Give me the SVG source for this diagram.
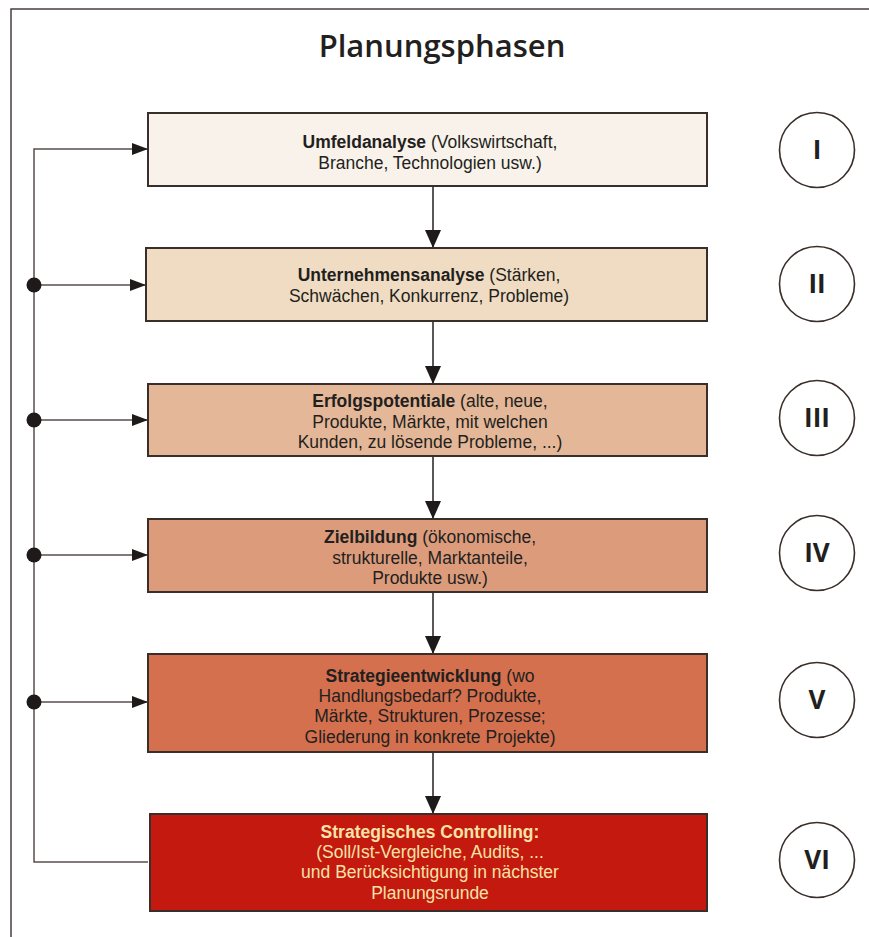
<svg xmlns="http://www.w3.org/2000/svg" width="869" height="937" viewBox="0 0 869 937">
<defs>
<style>
.frame{fill:none;stroke:#4a3f3c;stroke-width:1.5}
.box{stroke:#3a2e2a;stroke-width:2}
.t{font-family:"Liberation Sans",Arial,sans-serif;font-size:17.5px;fill:#231f20;text-anchor:middle}
.b{font-weight:700}
.w{fill:#f6e3a8}
.title{font-family:"Open Sans","Noto Sans",sans-serif;font-size:31px;font-weight:600;fill:#231f20;text-anchor:middle}
.circ{fill:#fff;stroke:#3a2e2a;stroke-width:1.6}
.num{font-family:"Open Sans","Noto Sans",sans-serif;font-size:26px;font-weight:700;fill:#231f20;text-anchor:middle}
.ln{fill:none;stroke:#5a4d4c;stroke-width:1.5}
.dn{fill:none;stroke:#231f20;stroke-width:1.5}
.dot{fill:#1e1a1a}
</style>
<marker id="ah" markerWidth="16" markerHeight="12" refX="16" refY="6" orient="auto" markerUnits="userSpaceOnUse">
<path d="M0,0 L16,6 L0,12 Z" fill="#1e1a1a"/>
</marker>
<marker id="ad" markerWidth="18" markerHeight="18" refX="18" refY="9" orient="auto" markerUnits="userSpaceOnUse">
<path d="M0,1 L18,9 L0,17 Z" fill="#1e1a1a"/>
</marker>
</defs>
<rect width="869" height="937" fill="#ffffff"/>
<rect class="frame" x="11" y="9" width="870" height="940"/>
<text class="title" x="442" y="57">Planungsphasen</text>

<g id="connectors">
<path class="ln" d="M148,862 L34,862 L34,149 L148,149" marker-end="url(#ah)"/>
<line class="ln" x1="34" y1="285" x2="146" y2="285" marker-end="url(#ah)"/>
<line class="ln" x1="34" y1="420" x2="148" y2="420" marker-end="url(#ah)"/>
<line class="ln" x1="34" y1="555" x2="148" y2="555" marker-end="url(#ah)"/>
<line class="ln" x1="34" y1="702" x2="148" y2="702" marker-end="url(#ah)"/>
<circle class="dot" cx="34" cy="285" r="7.5"/>
<circle class="dot" cx="34" cy="420" r="7.5"/>
<circle class="dot" cx="34" cy="555" r="7.5"/>
<circle class="dot" cx="34" cy="702" r="7.5"/>
<line class="dn" x1="433" y1="187" x2="433" y2="248" marker-end="url(#ad)"/>
<line class="dn" x1="433" y1="322" x2="433" y2="384" marker-end="url(#ad)"/>
<line class="dn" x1="433" y1="457" x2="433" y2="519" marker-end="url(#ad)"/>
<line class="dn" x1="433" y1="593" x2="433" y2="654" marker-end="url(#ad)"/>
<line class="dn" x1="433" y1="753" x2="433" y2="814" marker-end="url(#ad)"/>
</g>

<g id="n1">
<rect class="box" x="148" y="113" width="559" height="73" fill="#f8f2ea"/>
<text class="t" x="430" y="148"><tspan class="b">Umfeldanalyse</tspan> (Volkswirtschaft,</text>
<text class="t" x="430" y="168.5">Branche, Technologien usw.)</text>
</g>
<g id="n2">
<rect class="box" x="146" y="248" width="561" height="73" fill="#efdcc3"/>
<text class="t" x="429" y="281"><tspan class="b">Unternehmensanalyse</tspan> (Stärken,</text>
<text class="t" x="429" y="301.5">Schwächen, Konkurrenz, Probleme)</text>
</g>
<g id="n3">
<rect class="box" x="148" y="384" width="559" height="72" fill="#e3b797"/>
<text class="t" x="430" y="407"><tspan class="b">Erfolgspotentiale</tspan> (alte, neue,</text>
<text class="t" x="430" y="427.5">Produkte, Märkte, mit welchen</text>
<text class="t" x="430" y="448">Kunden, zu lösende Probleme, ...)</text>
</g>
<g id="n4">
<rect class="box" x="148" y="519" width="559" height="73" fill="#dc9c7c"/>
<text class="t" x="430" y="543"><tspan class="b">Zielbildung</tspan> (ökonomische,</text>
<text class="t" x="430" y="563.5">strukturelle, Marktanteile,</text>
<text class="t" x="430" y="584">Produkte usw.)</text>
</g>
<g id="n5">
<rect class="box" x="148" y="654" width="559" height="98" fill="#d4704d"/>
<text class="t" x="430" y="682"><tspan class="b">Strategieentwicklung</tspan> (wo</text>
<text class="t" x="430" y="702.2">Handlungsbedarf? Produkte,</text>
<text class="t" x="430" y="722.4">Märkte, Strukturen, Prozesse;</text>
<text class="t" x="430" y="742.6">Gliederung in konkrete Projekte)</text>
</g>
<g id="n6">
<rect class="box" x="150" y="814" width="557" height="97" fill="#c4190e"/>
<text class="t w b" x="430" y="838">Strategisches Controlling:</text>
<text class="t w" x="430" y="858.2">(Soll/Ist-Vergleiche, Audits, ...</text>
<text class="t w" x="430" y="878.4">und Berücksichtigung in nächster</text>
<text class="t w" x="430" y="898.6">Planungsrunde</text>
</g>

<g id="c1"><circle class="circ" cx="817" cy="150" r="37.5"/><text class="num" x="817" y="159">I</text></g>
<g id="c2"><circle class="circ" cx="817" cy="284" r="37.5"/><text class="num" x="817" y="293">II</text></g>
<g id="c3"><circle class="circ" cx="817" cy="418" r="37.5"/><text class="num" x="817" y="427">III</text></g>
<g id="c4"><circle class="circ" cx="817" cy="553" r="37.5"/><text class="num" x="817" y="562">IV</text></g>
<g id="c5"><circle class="circ" cx="817" cy="700" r="37.5"/><text class="num" x="817" y="709">V</text></g>
<g id="c6"><circle class="circ" cx="817" cy="860" r="37.5"/><text class="num" x="817" y="869">VI</text></g>
</svg>
